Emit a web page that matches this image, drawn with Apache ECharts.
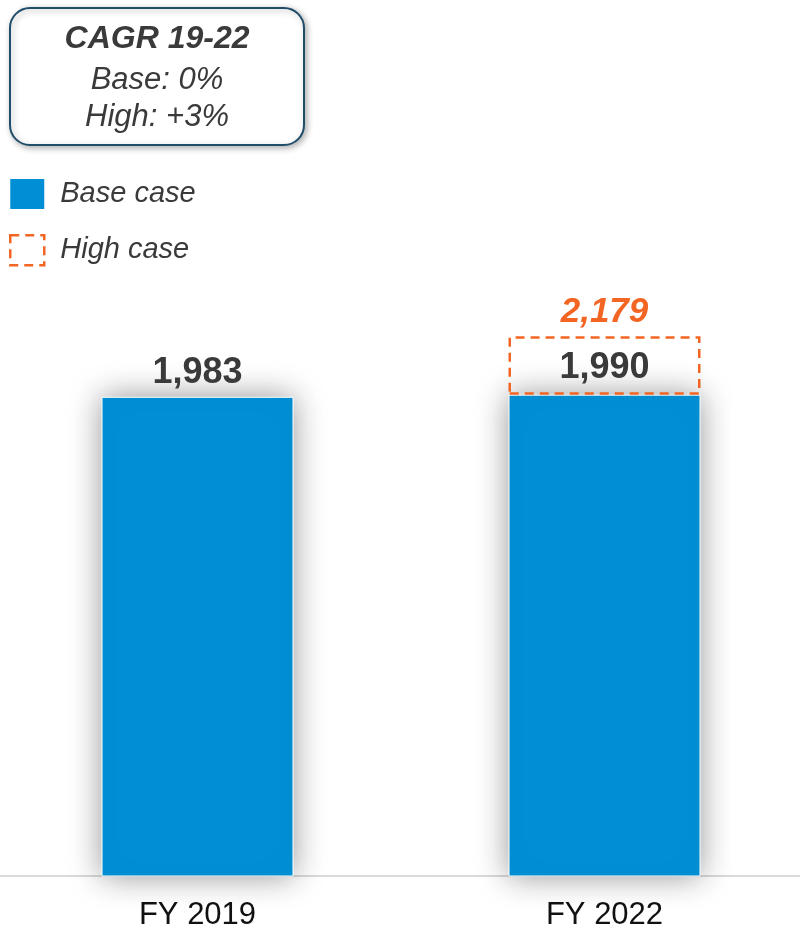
<!DOCTYPE html>
<html>
<head>
<meta charset="utf-8">
<script src="https://cdn.jsdelivr.net/npm/echarts@6/dist/echarts.min.js"></script>
<style>
  html, body { margin: 0; padding: 0; background: #fff; }
  #chart { width: 800px; height: 928px; }
</style>
</head>
<body>
<div id="chart"></div>
<script>
var categories = ['FY 2019', 'FY 2022']
var baseValues = [1983, 1990]
var highValues = [null, 2179]
var cagrLines = ['CAGR 19-22', 'Base: 0%', 'High: +3%']

var blue = '#008fd5'
var orange = '#f26522'
var textColor = '#3a3a3a'
var font = '"Liberation Sans", Arial, sans-serif'

function fmt(v) {
    return v.toLocaleString('en-US')
}

// base bars: FY2019 gets its label on top, FY2022 shows its value inside the dashed box
var baseData = baseValues.map(function (v, i) {
    return {
        value: v,
        label: { show: highValues[i] == null }
    }
})
// dashed box = high minus base, stacked on top
var highData = highValues.map(function (v, i) {
    return v == null ? null : v - baseValues[i]
})

var option = {
    backgroundColor: '#fff',
    animation: false,
    grid: {
        left: -6,
        right: -8,
        top: 299,
        bottom: 52,
        outerBoundsMode: 'none',
        containLabel: false
    },
    legend: {
        orient: 'vertical',
        left: 9,
        top: 179,
        padding: 0,
        itemWidth: 34,
        itemHeight: 30,
        itemGap: 25,
        textStyle: {
            color: textColor,
            fontSize: 29,
            fontStyle: 'italic',
            fontFamily: font,
            padding: [2, 0, 0, 11]
        },
        data: [
            { name: 'Base case', icon: 'rect', itemStyle: { color: blue, borderWidth: 0, shadowBlur: 0 } },
            { name: 'High case', icon: 'rect', itemStyle: { color: 'transparent', borderColor: orange, borderWidth: 2.5, borderType: [9, 6] } }
        ]
    },
    xAxis: {
        type: 'category',
        data: categories,
        axisTick: { show: false },
        axisLine: { show: true, lineStyle: { color: '#d9d9d9', width: 2 } },
        axisLabel: {
            color: '#111',
            fontSize: 31,
            fontFamily: font,
            margin: 24
        }
    },
    yAxis: {
        type: 'value',
        min: 430,
        max: 2300,
        show: false,
        splitLine: { show: false }
    },
    series: [
        {
            name: 'Base case',
            type: 'bar',
            stack: 'total',
            barWidth: 192,
            data: baseData,
            itemStyle: {
                color: blue,
                borderColor: '#fff',
                borderWidth: 1,
                shadowColor: 'rgba(0,0,0,0.4)',
                shadowBlur: 30
            },
            label: {
                position: 'top',
                distance: 6,
                color: textColor,
                fontSize: 36,
                fontWeight: 'bold',
                fontFamily: font,
                formatter: function (p) { return fmt(p.value) }
            }
        },
        {
            name: 'High case',
            type: 'bar',
            stack: 'total',
            barWidth: 192,
            data: highData,
            itemStyle: {
                color: 'rgba(255,255,255,0)',
                borderColor: orange,
                borderWidth: 2.5,
                borderType: [9, 6]
            },
            label: {
                show: true,
                position: 'inside',
                offset: [0, 3],
                color: textColor,
                fontSize: 36,
                fontWeight: 'bold',
                fontFamily: font,
                formatter: function (p) { return fmt(baseValues[p.dataIndex]) }
            }
        },
        {
            name: 'High total',
            type: 'scatter',
            symbolSize: 0,
            data: highValues,
            itemStyle: { opacity: 1, color: orange },
            label: {
                show: true,
                position: 'top',
                distance: 6,
                color: orange,
                opacity: 1,
                fontSize: 35,
                fontWeight: 'bold',
                fontStyle: 'italic',
                fontFamily: font,
                formatter: function (p) { return fmt(p.value) }
            }
        }
    ],
    graphic: [
        {
            type: 'group',
            left: 9,
            top: 7,
            children: [
                {
                    type: 'rect',
                    shape: { x: 0, y: 0, width: 294, height: 137, r: 20 },
                    style: {
                        fill: '#fff',
                        stroke: '#1f4d6a',
                        lineWidth: 2,
                        shadowBlur: 6,
                        shadowOffsetX: 2,
                        shadowOffsetY: 2,
                        shadowColor: 'rgba(0,0,0,0.3)'
                    }
                },
                {
                    type: 'text',
                    x: 147,
                    y: 31,
                    style: {
                        text: cagrLines[0],
                        align: 'center',
                        verticalAlign: 'middle',
                        fill: textColor,
                        font: 'italic bold 32px ' + font
                    }
                },
                {
                    type: 'text',
                    x: 147,
                    y: 72,
                    style: {
                        text: cagrLines[1],
                        align: 'center',
                        verticalAlign: 'middle',
                        fill: textColor,
                        font: 'italic 31px ' + font
                    }
                },
                {
                    type: 'text',
                    x: 147,
                    y: 109,
                    style: {
                        text: cagrLines[2],
                        align: 'center',
                        verticalAlign: 'middle',
                        fill: textColor,
                        font: 'italic 31px ' + font
                    }
                }
            ]
        }
    ]
}

var myChart = echarts.init(document.getElementById('chart'))
myChart.setOption(option)
</script>
</body>
</html>
